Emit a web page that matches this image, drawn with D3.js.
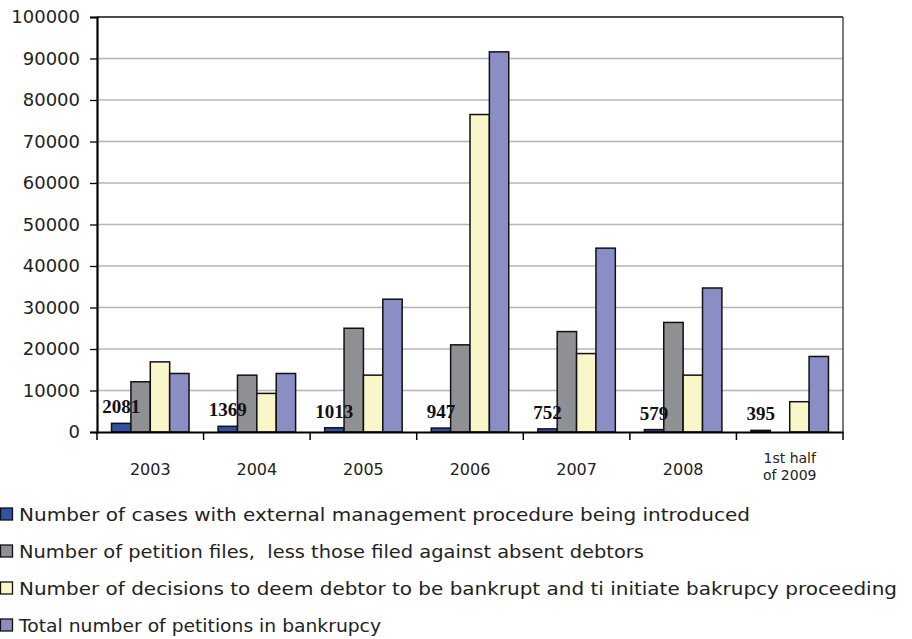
<!DOCTYPE html>
<html>
<head>
<meta charset="utf-8">
<script src="https://cdn.jsdelivr.net/npm/d3@7/dist/d3.min.js"></script>
<style>
  html, body { margin: 0; padding: 0; background: #fff; }
  svg { display: block; }
  .tick-label { font-family: "DejaVu Sans", sans-serif; fill: #222; }
  .legend-label { font-family: "DejaVu Sans", sans-serif; fill: #222; }
  .value-label { font-family: "Liberation Serif", "Times New Roman", serif; font-weight: bold; fill: #111; }
</style>
</head>
<body>
<svg id="chart" width="912" height="639"></svg>
<script>
// Categories (periods)
const categories = ["2003", "2004", "2005", "2006", "2007", "2008", "1st half|of 2009"];

// Series values per period
const externalManagement = [2081, 1369, 1013, 947, 752, 579, 395];
const petitionFiles = [12100, 13700, 25000, 21000, 24200, 26400, null];
const bankruptDecisions = [16900, 9300, 13700, 76500, 18900, 13700, 7300];
const totalPetitions = [14100, 14100, 32000, 91600, 44300, 34700, 18200];

// Y-axis ticks
const yTicks = [0, 10000, 20000, 30000, 40000, 50000, 60000, 70000, 80000, 90000, 100000];

const seriesNames = [
  "Number of cases with external management procedure being introduced",
  "Number of petition files,\u00A0 less those filed against absent debtors",
  "Number of decisions to deem debtor to be bankrupt and ti initiate bakrupcy proceeding",
  "Total number of petitions in bankrupcy"
];
const seriesColors = ["#3352a3", "#8f9094", "#f9f7c9", "#8b8dc5"];
const seriesValues = [externalManagement, petitionFiles, bankruptDecisions, totalPetitions];

const svg = d3.select("#chart");
const plot = { left: 97, right: 843, top: 17, bottom: 432 };

const x0 = d3.scaleBand().domain(categories).range([plot.left, plot.right]).paddingInner(0).paddingOuter(0);
const x1 = d3.scaleBand().domain(d3.range(seriesNames.length)).range([0, x0.bandwidth()])
  .paddingInner(0).paddingOuter(0.75);
const y = d3.scaleLinear().domain([0, 100000]).range([plot.bottom, plot.top]);

// Gridlines
svg.append("g")
  .selectAll("line")
  .data(yTicks.filter(t => t > 0 && t < 100000))
  .join("line")
  .attr("x1", plot.left).attr("x2", plot.right)
  .attr("y1", d => y(d)).attr("y2", d => y(d))
  .attr("stroke", "#b4b4bc").attr("stroke-width", 1.3);

// Plot frame: top and right edges
svg.append("line")
  .attr("x1", plot.left).attr("x2", plot.right)
  .attr("y1", y(100000)).attr("y2", y(100000))
  .attr("stroke", "#111").attr("stroke-width", 1.3);
svg.append("line")
  .attr("x1", plot.right).attr("x2", plot.right)
  .attr("y1", plot.top).attr("y2", plot.bottom)
  .attr("stroke", "#333").attr("stroke-width", 1.3);

// Bars
const groups = svg.append("g")
  .selectAll("g")
  .data(categories.map((c, i) => ({ c, i })))
  .join("g")
  .attr("transform", d => `translate(${x0(d.c)},0)`);

groups.selectAll("rect")
  .data(d => seriesValues.map((vals, s) => ({ s, v: vals[d.i] })).filter(e => e.v != null))
  .join("rect")
  .attr("x", d => x1(d.s))
  .attr("width", x1.bandwidth())
  .attr("y", d => y(d.v))
  .attr("height", d => y(0) - y(d.v))
  .attr("fill", d => seriesColors[d.s])
  .attr("stroke", "#111")
  .attr("stroke-width", 1.5);

// Value labels for the external-management series
svg.append("g")
  .selectAll("text")
  .data(externalManagement.map((v, i) => ({ v, c: categories[i] })))
  .join("text")
  .attr("class", "value-label")
  .attr("x", d => x0(d.c) + x1(0) + x1.bandwidth() / 2)
  .attr("y", d => y(d.v) - 10)
  .attr("text-anchor", "middle")
  .attr("font-size", 19)
  .text(d => d.v);

// Y axis
const yAxis = svg.append("g")
  .attr("transform", `translate(${plot.left},0)`)
  .call(d3.axisLeft(y).tickValues(yTicks).tickSize(7).tickPadding(10).tickFormat(d3.format("d")));
yAxis.select(".domain").attr("stroke", "#000").attr("stroke-width", 2.2);
yAxis.selectAll(".tick line").attr("stroke", "#000").attr("stroke-width", 1.3);
yAxis.selectAll(".tick text").attr("class", "tick-label").attr("font-size", 18).attr("fill", "#222");

// X axis
const xAxis = svg.append("g")
  .attr("transform", `translate(0,${plot.bottom})`)
  .call(d3.axisBottom(x0).tickSize(0).tickFormat(""));
xAxis.select(".domain").attr("stroke", "#000").attr("stroke-width", 2);
xAxis.selectAll(".tick").remove();

// Category boundary ticks
const boundaries = categories.map(c => x0(c)).concat([plot.right]);
svg.append("g")
  .selectAll("line")
  .data(boundaries)
  .join("line")
  .attr("x1", d => d).attr("x2", d => d)
  .attr("y1", plot.bottom).attr("y2", plot.bottom + 8)
  .attr("stroke", "#000").attr("stroke-width", 1.5);

// Category labels (multi-line where split by "|")
const catLabels = svg.append("g")
  .selectAll("text")
  .data(categories)
  .join("text")
  .attr("class", "tick-label")
  .attr("text-anchor", "middle")
  .attr("x", d => x0(d) + x0.bandwidth() / 2);
catLabels.each(function (d) {
  const lines = d.split("|");
  const t = d3.select(this);
  if (lines.length === 1) {
    t.attr("y", 475).attr("font-size", 16).text(lines[0]);
  } else {
    t.attr("font-size", 14);
    lines.forEach((ln, k) => {
      t.append("tspan").attr("x", x0(d) + x0.bandwidth() / 2).attr("y", 463 + k * 17).text(ln);
    });
  }
});

// Legend: the geometric legend face runs wider than DejaVu, so each entry
// is stretched slightly to its set width.
const legendWidths = [731, 625, 878, 362];
const legend = svg.append("g")
  .selectAll("g")
  .data(seriesNames.map((n, i) => ({ n, i })))
  .join("g")
  .attr("transform", d => `translate(0,${508 + d.i * 37})`);
legend.append("rect")
  .attr("x", 0.5).attr("y", 0)
  .attr("width", 12).attr("height", 12)
  .attr("fill", d => seriesColors[d.i])
  .attr("stroke", "#111").attr("stroke-width", 1.3);
legend.append("text")
  .attr("class", "legend-label")
  .attr("x", 19).attr("y", 13)
  .attr("font-size", 18)
  .attr("xml:space", "preserve")
  .attr("textLength", d => legendWidths[d.i])
  .attr("lengthAdjust", "spacingAndGlyphs")
  .text(d => d.n);
</script>
</body>
</html>
